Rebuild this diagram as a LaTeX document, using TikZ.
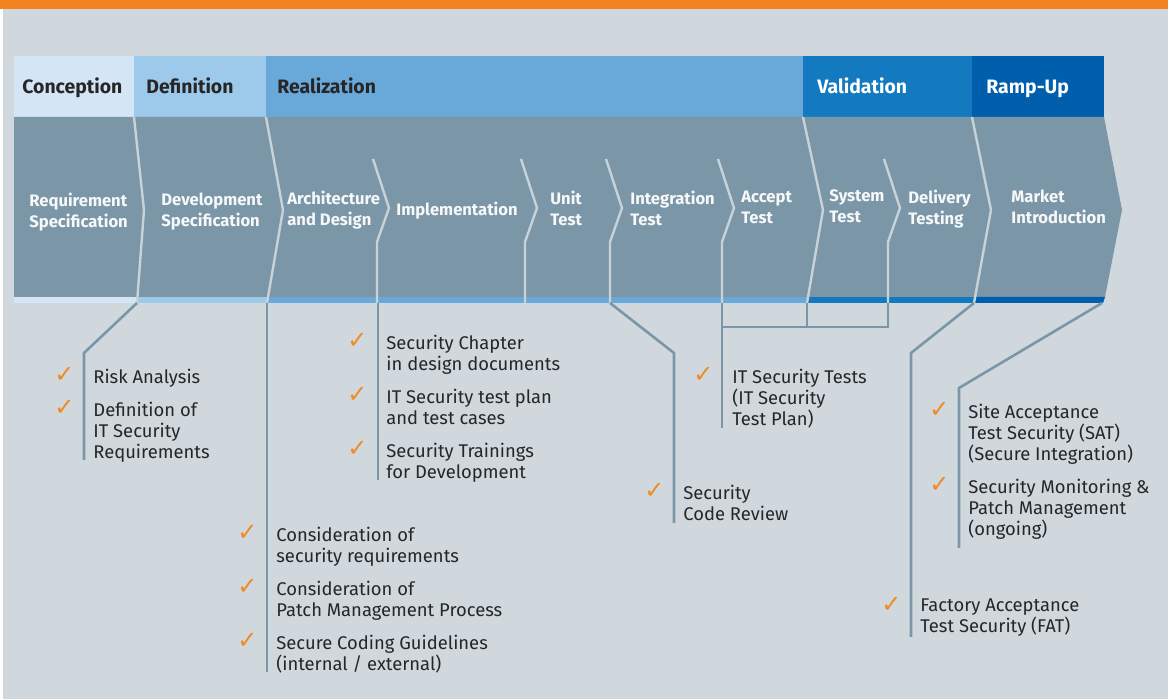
\documentclass[tikz,border=0pt]{standalone}
\usepackage{fontspec}
\setmainfont{Fira Sans}
\newfontfamily\tickfont{DejaVu Sans}
\usetikzlibrary{positioning,calc}

\begin{document}
\begin{tikzpicture}[x=0.5pt,y=-0.5pt]
\definecolor{bar orange}{HTML}{F38321}
\definecolor{page grey}{HTML}{D0D8DE}
\definecolor{band grey}{HTML}{7B97A7}
\definecolor{seam grey}{HTML}{C8D2D9}
\definecolor{conception}{HTML}{D4E6F5}
\definecolor{definition}{HTML}{9DC9EA}
\definecolor{realization}{HTML}{69A9DA}
\definecolor{validation}{HTML}{147ABF}
\definecolor{rampup}{HTML}{005FAD}
\definecolor{tick orange}{HTML}{F08A24}
\colorlet{item text}{black!85}
\colorlet{stage text}{white!93!band grey}
\tikzset{
     % first baseline sits on the given point
     firstline/.style={anchor=north west, inner sep=0pt, align=left, yshift=7.35pt,
                       execute at begin node=\strut},
     phase/.style={anchor=base west, inner sep=0pt, font=\fontsize{9.7}{12}\selectfont\bfseries},
     stage/.style={firstline, yshift=-1pt, text=stage text, font=\fontsize{8.3}{10.5}\selectfont\bfseries},
     item/.style={firstline, text=item text, font=\fontsize{9.2}{10.5}\selectfont},
     tick/.style={anchor=base, inner sep=0pt, text=tick orange, font=\tickfont\fontsize{12}{12}\selectfont},
     seam/.style={draw=seam grey, line width=1.2pt},
     leader/.style={draw=band grey, line width=1.3pt}}

% orange tick in front of an item
\def\tick#1{\node (#1 tick) [tick] at ([xshift=-14.25pt,yshift=-7.35pt]#1.north west) {✓};}

\useasboundingbox (0,0) rectangle (1168,699);

% The page
\fill[white] (0,0) rectangle (1168,699);
\fill[page grey] (3,9) rectangle (1168,699);
\fill[bar orange] (0,0) rectangle (1168,9);

% The phase header
\foreach \a/\b/\c in {14/134/conception, 134/266/definition, 266/803/realization, 803/972/validation}
  \fill[\c] (\a,56) rectangle (\b,117);
\fill[rampup] (972,56) rectangle (1104,117);

% The arrow band and the coloured strip under it
\fill[band grey] (14,117) -- (1104,117) -- (1122,210) -- (1105,297) -- (14,297) -- cycle;
\foreach \a/\b/\c in {14/137/conception, 137/267/definition, 267/807/realization, 807/974/validation}
  \fill[\c] (\a,297) rectangle (\b,303);
\fill[rampup] (974,297) -- (1105,297) -- (1103,303) -- (974,303) -- cycle;

% The chevrons
\draw[seam] (134,117) -- (144,210) -- (137,303);
\draw[seam] (266,117) -- (283,210) -- (267,303);
\draw[seam] (803,117) -- (823,210) -- (807,303);
\draw[seam] (972,117) -- (991,210) -- (974,303);
\foreach \x in {373,521,606,718,884}
  \draw[seam] (\x,159) -- ++(16,49) -- ++(-12,34) -- (\x+4,303);

% The phases
\node (conc) [phase, text=black!85] at (22,94) {Conception};
\node (defn) [phase, text=black!85] at (146,94) {Definition};
\node (real) [phase, text=black!85] at (277,94) {Realization};
\node (vali) [phase, text=white] at (817,94) {Validation};
\node (ramp) [phase, text=white] at (986,94) {Ramp-Up};

% The stages
\node (reqspec) [stage] at (29,205) {Requirement\\Specification};
\node (devspec) [stage] at (161,205) {Development\\Specification};
\node (arch)    [stage] at (287,203) {Architecture\\and Design};
\node (impl)    [stage] at (396,213) {Implementation};
\node (unit)    [stage] at (550,203) {Unit\\Test};
\node (integ)   [stage] at (630,203) {Integration\\Test};
\node (accept)  [stage] at (741,203) {Accept\\Test};
\node (system)  [stage] at (829,202) {System\\Test};
\node (deliv)   [stage] at (908,202) {Delivery\\Testing};
\node (market)  [stage] at (1011,202) {Market\\Introduction};

% Where the leaders leave the strip, bend and stop
\coordinate (req end) at (137,303);  \coordinate (req bend) at (84,353);  \coordinate (req foot) at (84,460);
\coordinate (dev end) at (267,303);  \coordinate (dev foot) at (267,672);
\coordinate (arch end) at (378,303); \coordinate (arch foot) at (378,480);
\coordinate (unit end) at (610,303); \coordinate (unit bend) at (674,353); \coordinate (unit foot) at (674,523);
\coordinate (acc end) at (722,303);  \coordinate (acc foot) at (722,428);
\coordinate (val end) at (807,303);  \coordinate (dlv end) at (888,303);  \coordinate (joint) at (722,327);
\coordinate (sys end) at (974,303);  \coordinate (sys bend) at (911,353);  \coordinate (sys foot) at (911,637);
\coordinate (mkt end) at (1102,303); \coordinate (mkt bend) at (959,388);  \coordinate (mkt foot) at (959,548);

% The leaders
\draw[leader] (req end) -- (req bend) -- (req foot);
\draw[leader] (dev end) -- (dev foot);
\draw[leader] (arch end) -- (arch foot);
\draw[leader] (unit end) -- (unit bend) -- (unit foot);
\draw[leader] (acc end) -- (acc foot);
\draw[leader] (joint) -| (dlv end);
\draw[leader] (val end) -- (val end |- joint);
\draw[leader] (sys end) -- (sys bend) -- (sys foot);
\draw[leader] (mkt end) -- (mkt bend) -- (mkt foot);

% The check lists
\node (risk)  [item] at (93,383) {Risk Analysis};
\node (itreq) [item] at (93,416) {Definition of\\IT Security\\Requirements};

\node (consreq)   [item] at (276,541) {Consideration of\\security requirements};
\node (conspatch) [item] at (276,595) {Consideration of\\Patch Management Process};
\node (coding)    [item] at (276,649) {Secure Coding Guidelines\\(internal / external)};

\node (chapter)   [item] at (386,349) {Security Chapter\\in design documents};
\node (testplan)  [item] at (386,403) {IT Security test plan\\and test cases};
\node (trainings) [item] at (386,457) {Security Trainings\\for Development};

\node (review)  [item] at (683,499) {Security\\Code Review};
\node (ittests) [item] at (732,383) {IT Security Tests\\(IT Security\\Test Plan)};

\node (fat)     [item] at (920,613) {Factory Acceptance\\Test Security (FAT)};
\node (sat)     [item] at (968,418) {Site Acceptance\\Test Security (SAT)\\(Secure Integration)};
\node (monitor) [item] at (968,493) {Security Monitoring \&\\Patch Management\\(ongoing)};

\foreach \n in {risk,itreq,consreq,conspatch,coding,chapter,testplan,trainings,review,ittests,fat,sat,monitor}
  {\tick{\n}}
\end{tikzpicture}
\end{document}
